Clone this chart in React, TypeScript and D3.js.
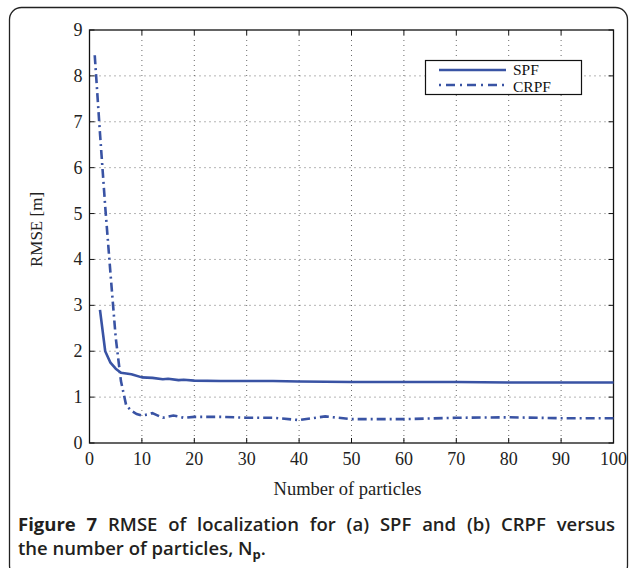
import React, { useEffect, useRef } from 'react';
import * as d3 from 'd3';

// values
const spfX = [2, 3, 4, 5, 6, 8, 10, 12, 14, 15, 17, 18, 20, 25, 30, 35, 40, 50, 60, 70, 80, 90, 100];
const spfY = [2.9, 2.0, 1.75, 1.62, 1.53, 1.5, 1.43, 1.42, 1.39, 1.4, 1.37, 1.38, 1.36, 1.35, 1.35, 1.35, 1.34, 1.33, 1.33, 1.33, 1.32, 1.32, 1.32];
const crpfX = [1, 2, 3, 4, 5, 6, 7, 8, 9, 10, 11, 12, 14, 16, 18, 20, 25, 30, 35, 40, 45, 50, 60, 70, 80, 90, 100];
const crpfY = [8.45, 6.75, 5.15, 3.7, 2.3, 1.35, 0.82, 0.7, 0.63, 0.6, 0.62, 0.65, 0.55, 0.6, 0.55, 0.57, 0.57, 0.55, 0.55, 0.5, 0.58, 0.52, 0.52, 0.55, 0.56, 0.54, 0.54];
const xTicks = [0, 10, 20, 30, 40, 50, 60, 70, 80, 90, 100];
const yTicks = [0, 1, 2, 3, 4, 5, 6, 7, 8, 9];
const legendLabels = ['SPF', 'CRPF'];

const BLUE = '#3953a4';
const SERIF = '"Liberation Serif", "Times New Roman", serif';
const SANS = '"Open Sans", "Noto Sans", sans-serif';

export default function App() {
  const svgRef = useRef<SVGSVGElement>(null);

  useEffect(() => {
    document.body.style.margin = '0';
    const svg = d3.select(svgRef.current);
    svg.selectAll('*').remove();

    const W = 629, H = 568;
    svg.attr('width', W).attr('height', H);

    // outer frame
    svg.append('rect')
      .attr('x', 9.5).attr('y', 7.5)
      .attr('width', 618).attr('height', 570)
      .attr('rx', 12)
      .attr('fill', 'white')
      .attr('stroke', '#222').attr('stroke-width', 1.3);

    const left = 89.5, right = 613.5, top = 30, bottom = 443;
    const x = d3.scaleLinear().domain([0, 100]).range([left, right]);
    const y = d3.scaleLinear().domain([0, 9]).range([bottom, top]);

    const g = svg.append('g');

    // grid
    g.append('g').selectAll('line')
      .data(xTicks.slice(1, -1))
      .enter().append('line')
      .attr('x1', d => x(d)).attr('x2', d => x(d))
      .attr('y1', top).attr('y2', bottom)
      .attr('stroke', '#444').attr('stroke-width', 0.8)
      .attr('stroke-dasharray', '1,4');
    g.append('g').selectAll('line')
      .data(yTicks.slice(1, -1))
      .enter().append('line')
      .attr('y1', d => y(d)).attr('y2', d => y(d))
      .attr('x1', left).attr('x2', right)
      .attr('stroke', '#444').attr('stroke-width', 0.8)
      .attr('stroke-dasharray', '1,4');

    // inward ticks on all four sides
    const tk = 5;
    const axisStyle = (sel: any) => sel.attr('stroke', '#111').attr('stroke-width', 1);
    xTicks.forEach(t => {
      axisStyle(g.append('line').attr('x1', x(t)).attr('x2', x(t)).attr('y1', bottom).attr('y2', bottom - tk));
      axisStyle(g.append('line').attr('x1', x(t)).attr('x2', x(t)).attr('y1', top).attr('y2', top + tk));
    });
    yTicks.forEach(t => {
      axisStyle(g.append('line').attr('y1', y(t)).attr('y2', y(t)).attr('x1', left).attr('x2', left + tk));
      axisStyle(g.append('line').attr('y1', y(t)).attr('y2', y(t)).attr('x1', right).attr('x2', right - tk));
    });

    g.append('rect')
      .attr('x', left).attr('y', top)
      .attr('width', right - left).attr('height', bottom - top)
      .attr('fill', 'none').attr('stroke', '#111').attr('stroke-width', 1.3);

    // tick labels
    g.append('g').selectAll('text')
      .data(xTicks).enter().append('text')
      .attr('x', d => x(d)).attr('y', bottom + 22)
      .attr('text-anchor', 'middle')
      .attr('font-family', SERIF).attr('font-size', 18).attr('fill', '#222')
      .text(d => d);
    g.append('g').selectAll('text')
      .data(yTicks).enter().append('text')
      .attr('x', left - 7).attr('y', d => y(d) + 6)
      .attr('text-anchor', 'end')
      .attr('font-family', SERIF).attr('font-size', 18).attr('fill', '#222')
      .text(d => d);

    // axis titles
    g.append('text')
      .attr('x', (left + right) / 2 - 4).attr('y', 495)
      .attr('text-anchor', 'middle')
      .attr('font-family', SERIF).attr('font-size', 18.5).attr('fill', '#222')
      .text('Number of particles');
    g.append('text')
      .attr('transform', `translate(42,${(top + bottom) / 2 - 7}) rotate(-90)`)
      .attr('text-anchor', 'middle')
      .attr('font-family', SERIF).attr('font-size', 17).attr('fill', '#222')
      .text('RMSE [m]');

    // lines
    const line = d3.line<[number, number]>()
      .x(d => x(d[0])).y(d => y(d[1]));
    g.append('path')
      .datum(spfX.map((v, i) => [v, spfY[i]] as [number, number]))
      .attr('d', line)
      .attr('fill', 'none').attr('stroke', BLUE).attr('stroke-width', 2.6)
      .attr('stroke-linejoin', 'round');
    g.append('path')
      .datum(crpfX.map((v, i) => [v, crpfY[i]] as [number, number]))
      .attr('d', line)
      .attr('fill', 'none').attr('stroke', BLUE).attr('stroke-width', 2.6)
      .attr('stroke-dasharray', '9,4,2,4');

    // legend
    const lg = g.append('g');
    lg.append('rect')
      .attr('x', 425.5).attr('y', 60.5).attr('width', 156).attr('height', 34)
      .attr('fill', 'white').attr('stroke', '#111').attr('stroke-width', 1.2);
    legendLabels.forEach((lab, i) => {
      const ly = 70 + i * 15;
      lg.append('line')
        .attr('x1', 439).attr('x2', 506).attr('y1', ly).attr('y2', ly)
        .attr('stroke', BLUE).attr('stroke-width', 2.6)
        .attr('stroke-dasharray', i === 1 ? '2,5,9,5' : null);
      lg.append('text')
        .attr('x', 513).attr('y', ly + 5 + i * 1.5)
        .attr('font-family', SERIF).attr('font-size', 15.5).attr('fill', '#111')
        .text(lab);
    });

    // caption (first line justified to the frame width)
    const cap1 = svg.append('text')
      .attr('x', 18).attr('y', 531)
      .attr('font-family', SANS).attr('font-size', 18.5).attr('font-weight', 600).attr('fill', '#231f20');
    cap1.append('tspan').attr('font-weight', 'bold').text('Figure 7');
    cap1.append('tspan').text(' RMSE of localization for (a) SPF and (b) CRPF versus');
    const natural = (cap1.node() as SVGTextElement).getComputedTextLength();
    const gaps = 11;
    const extra = Math.max(0, (597 - natural) / gaps);
    cap1.attr('word-spacing', extra);

    const cap2 = svg.append('text')
      .attr('x', 18).attr('y', 555)
      .attr('font-family', SANS).attr('font-size', 18.5).attr('font-weight', 600).attr('fill', '#231f20');
    cap2.append('tspan').text('the number of particles, N');
    cap2.append('tspan').attr('font-size', 13).attr('font-weight', 'bold').attr('dy', 4).text('p');
    cap2.append('tspan').attr('dy', -4).text('.');
  }, []);

  return <svg ref={svgRef} aria-label="RMSE versus number of particles" />;
}
